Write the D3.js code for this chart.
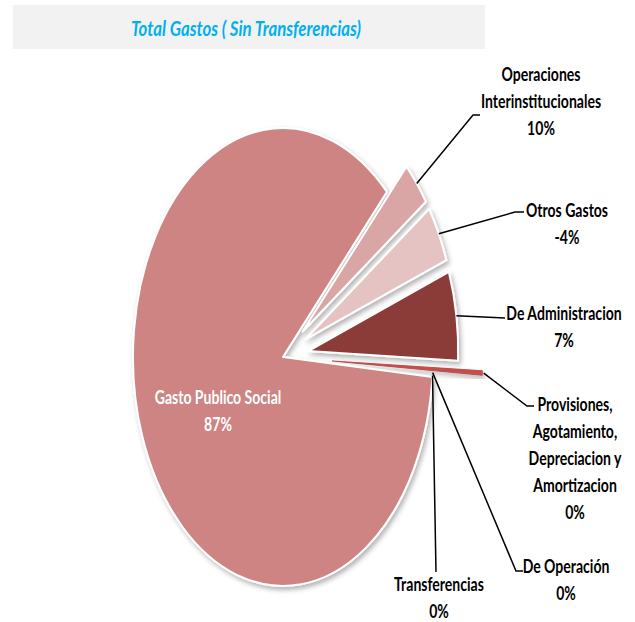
<!DOCTYPE html>
<html>
<head>
<meta charset="utf-8">
<script src="https://cdn.jsdelivr.net/npm/d3@7"></script>
<style>
  body { margin: 0; background: #fff; }
  text { font-family: Lato, "Liberation Sans", sans-serif; font-weight: bold; }
</style>
</head>
<body>
<div id="chart"></div>
<script>
// slice data, clockwise from Gasto Publico Social
var categories = ["Gasto Publico Social", "Operaciones Interinstitucionales", "Otros Gastos",
                  "De Administracion", "Provisiones, Agotamiento, Depreciacion y Amortizacion",
                  "De Operación", "Transferencias"];
var sliceShare = [85.8, 3.2, 4.0, 6.3, 0.3, 0.2, 0.2];   // angular share of the pie as drawn
var pctLabels = ["87%", "10%", "-4%", "7%", "0%", "0%", "0%"];
var labelLines = [
  ["Gasto Publico Social"],
  ["Operaciones", "Interinstitucionales"],
  ["Otros Gastos"],
  ["De Administracion"],
  ["Provisiones,", "Agotamiento,", "Depreciacion y", "Amortizacion"],
  ["De Operación"],
  ["Transferencias"]
];
var colors = ["#cd8482", "#d9a6a5", "#e6c3c3", "#8b3a38", "#c0504d", "#c0504d", "#c0504d"];

// layout
var width = 635, height = 622;
var cx = 283, cy = 357, rx = 150, ry = 229;
var explode = [0, 0.17, 0.17, 0.17, 0.33, 0, 0];
// label anchor (centre x, first baseline y) and leader bend points
var labelPos = [[218, 404], [541, 81], [567, 217], [564, 320], [575, 411], [566, 573], [439, 591]];
var lineH = 27;
var leaderEnd = [null, [[473, 115], [480, 115]], [[515, 212], [524, 212]], [[505, 318]],
                 [[527, 406], [534, 406]], [[516, 571], [523, 571]], [[436, 572]]];
var squeeze = 0.72;   // the source picture is squeezed horizontally

var svg = d3.select("#chart").append("svg")
    .attr("width", width).attr("height", height);

var defs = svg.append("defs");
var f = defs.append("filter").attr("id", "shadow")
    .attr("x", "-20%").attr("y", "-20%").attr("width", "140%").attr("height", "140%");
f.append("feDropShadow").attr("dx", 2).attr("dy", 3).attr("stdDeviation", 2.5)
    .attr("flood-color", "#000").attr("flood-opacity", 0.3);

// title
svg.append("rect").attr("x", 13).attr("y", 5).attr("width", 472).attr("height", 44)
    .attr("fill", "#f2f2f2");
svg.append("g").attr("transform", "translate(246,36) scale(0.8,1)")
  .append("text").attr("text-anchor", "middle")
    .attr("font-size", 21).attr("font-style", "italic").attr("fill", "#00b0f0")
    .text("Total Gastos ( Sin Transferencias)");

var x = d3.scaleLinear().domain([-1, 1]).range([cx - rx, cx + rx]);
var y = d3.scaleLinear().domain([-1, 1]).range([cy - ry, cy + ry]);

var pie = d3.pie().sort(null).value(function(d) { return d; })
    .startAngle(95 * Math.PI / 180).endAngle(95 * Math.PI / 180 + 2 * Math.PI);
var arcs = pie(sliceShare);
var arc = d3.arc().innerRadius(0).outerRadius(1);

function unitPoint(a, r) { return [Math.sin(a) * r, -Math.cos(a) * r]; }

// thin Provisiones sliver goes underneath so only its outer end shows
var drawOrder = [4, 0, 1, 2, 3];
var g = svg.append("g");
drawOrder.forEach(function(i) {
  var d = arcs[i];
  var mid = (d.startAngle + d.endAngle) / 2;
  var off = unitPoint(mid, explode[i]);
  var tx = x(off[0]), ty = y(off[1]);
  var isThin = (d.endAngle - d.startAngle) < 0.03;
  g.append("g").attr("filter", "url(#shadow)")
    .append("path")
    .attr("d", arc(d))
    .attr("transform", "translate(" + tx + "," + ty + ") scale(" + rx + "," + ry + ")")
    .attr("fill", colors[i])
    .attr("stroke", isThin ? colors[i] : "#fff")
    .attr("stroke-width", isThin ? 1.2 : 2)
    .attr("stroke-linejoin", "round")
    .attr("vector-effect", "non-scaling-stroke");
});

// leader lines
arcs.forEach(function(d, i) {
  if (!leaderEnd[i]) return;
  var mid = (d.startAngle + d.endAngle) / 2;
  var off = unitPoint(mid, explode[i]);
  var r = (i === 4) ? 1.01 : 1.0;
  var p = unitPoint(mid, r);
  var start = [x(p[0] + off[0]), y(p[1] + off[1])];
  var pts = [start].concat(leaderEnd[i]);
  svg.append("path")
    .attr("d", d3.line()(pts))
    .attr("fill", "none").attr("stroke", "#000").attr("stroke-width", 1.5);
});

// labels
arcs.forEach(function(d, i) {
  var lines = labelLines[i].concat([pctLabels[i]]);
  var t = svg.append("g")
    .attr("transform", "translate(" + labelPos[i][0] + "," + labelPos[i][1] + ") scale(" + squeeze + ",1)")
    .append("text")
    .attr("text-anchor", "middle")
    .attr("font-size", 19.5)
    .attr("fill", i === 0 ? "#fff" : "#000");
  lines.forEach(function(s, k) {
    t.append("tspan").attr("x", 0).attr("y", k * lineH).text(s);
  });
});
</script>
</body>
</html>
